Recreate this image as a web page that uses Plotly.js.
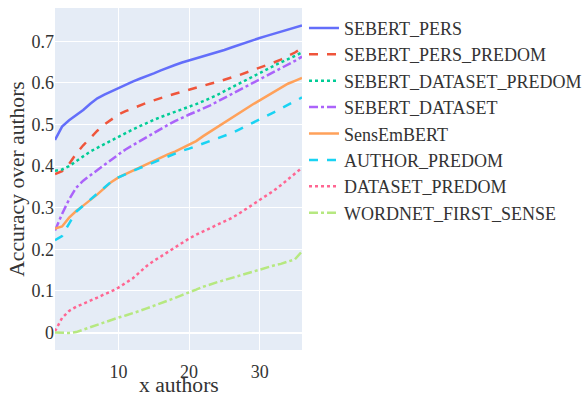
<!DOCTYPE html>
<html>
<head>
<meta charset="utf-8">
<script src="https://cdn.plot.ly/plotly-3.0.1.min.js"></script>
<style>html,body{margin:0;padding:0;background:#fff;}#chart{width:584px;height:397px;}</style>
</head>
<body>
<div id="chart"></div>
<script>
const xAuthors = [1,2,3,4,5,6,7,8,9,10,11,12,13,14,15,16,17,18,19,20,21,22,23,24,25,26,27,28,29,30,31,32,33,34,35,36];

const sebertPers = [.463,.495,.51,.522,.535,.55,.563,.572,.58,.588,.596,.603,.61,.616,.623,.63,.637,.643,.649,.654,.659,.664,.668,.673,.679,.685,.691,.697,.703,.708,.713,.718,.723,.728,.733,.738];
const sebertPersPredom = [.381,.388,.405,.43,.45,.468,.485,.5,.512,.524,.532,.539,.546,.552,.558,.564,.569,.574,.579,.584,.589,.594,.598,.602,.608,.613,.618,.624,.63,.636,.642,.649,.656,.664,.673,.684];
const sebertDatasetPredom = [.389,.392,.400,.412,.424,.435,.444,.453,.462,.472,.480,.488,.496,.504,.511,.518,.524,.530,.536,.542,.549,.556,.563,.571,.580,.589,.598,.607,.616,.625,.633,.641,.649,.657,.665,.673];
const sebertDataset = [.245,.285,.32,.348,.365,.378,.39,.402,.415,.428,.440,.450,.461,.471,.481,.491,.499,.508,.517,.524,.531,.538,.546,.555,.564,.573,.582,.59,.598,.607,.616,.625,.634,.643,.653,.663];
const sensEmBert = [.25,.255,.276,.292,.305,.318,.332,.347,.362,.373,.381,.389,.396,.404,.412,.42,.428,.435,.443,.451,.460,.472,.483,.495,.506,.517,.528,.538,.548,.558,.568,.578,.588,.598,.605,.612];
const authorPredom = [.222,.232,.262,.29,.305,.32,.335,.35,.363,.373,.381,.388,.395,.402,.41,.417,.424,.431,.437,.442,.448,.454,.461,.467,.473,.479,.487,.495,.503,.511,.52,.529,.538,.547,.556,.565];
const datasetPredom = [.003,.035,.052,.062,.069,.076,.084,.092,.099,.108,.118,.13,.145,.16,.172,.183,.194,.206,.217,.226,.235,.243,.25,.258,.266,.275,.285,.296,.307,.318,.329,.341,.354,.368,.383,.396];
const wordnetFirstSense = [0,-.001,-.001,.001,.007,.013,.018,.024,.03,.036,.041,.046,.052,.058,.064,.07,.076,.083,.09,.096,.103,.11,.116,.121,.126,.131,.137,.142,.147,.152,.157,.161,.165,.17,.176,.195];

const seriesNames = ["SEBERT_PERS","SEBERT_PERS_PREDOM","SEBERT_DATASET_PREDOM","SEBERT_DATASET","SensEmBERT","AUTHOR_PREDOM","DATASET_PREDOM","WORDNET_FIRST_SENSE"];
const seriesValues = [sebertPers, sebertPersPredom, sebertDatasetPredom, sebertDataset, sensEmBert, authorPredom, datasetPredom, wordnetFirstSense];
const colors = ["#636efa","#EF553B","#00cc96","#ab63fa","#FFA15A","#19d3f3","#FF6692","#B6E880"];
const dashes = ["solid","dash","dot","dashdot","solid","dash","dot","dashdot"];
const xTicks = [10,20,30];
const yTicks = [0,0.1,0.2,0.3,0.4,0.5,0.6,0.7];
const yTickText = ["0","0.1","0.2","0.3","0.4","0.5","0.6","0.7"];
const xTitle = "x authors";
const yTitle = "Accuracy over authors";

const traces = seriesNames.map((n,i)=>({
  type:"scatter", mode:"lines", name:n, x:xAuthors, y:seriesValues[i],
  line:{color:colors[i], dash:dashes[i], width:2.5}
}));

const fontFam = "Liberation Serif";
const txtColor = "#333333";
const layout = {
  width:584, height:397,
  margin:{l:55, r:282, t:8, b:47, autoexpand:false},
  paper_bgcolor:"#fff", plot_bgcolor:"#E5ECF6",
  font:{family:fontFam, size:18, color:txtColor},
  showlegend:true,
  legend:{x:1.008, y:0.995, xanchor:"left", yanchor:"top", font:{family:fontFam, size:18, color:txtColor}, bgcolor:"rgba(0,0,0,0)"},
  xaxis:{range:[1,36], tickvals:xTicks, ticktext:xTicks.map(String), gridcolor:"white", zeroline:false,
    tickfont:{family:fontFam, size:18, color:txtColor}, ticks:"outside", ticklen:5, tickcolor:"rgba(0,0,0,0)"},
  yaxis:{range:[-0.042,0.78], tickvals:yTicks, ticktext:yTickText,
    gridcolor:"white", zeroline:true, zerolinecolor:"white", zerolinewidth:2,
    tickfont:{family:fontFam, size:18, color:txtColor}, ticks:"",
    title:{text:yTitle, font:{family:fontFam, size:21.6, color:txtColor}, standoff:0}},
  annotations:[{text:xTitle, xref:"paper", yref:"paper", x:0.5, y:-0.103, xanchor:"center", yanchor:"middle",
    showarrow:false, borderpad:0, font:{family:fontFam, size:21.6, color:txtColor}}]
};
Plotly.newPlot("chart", traces, layout, {displayModeBar:false, staticPlot:true});
</script>
</body>
</html>
